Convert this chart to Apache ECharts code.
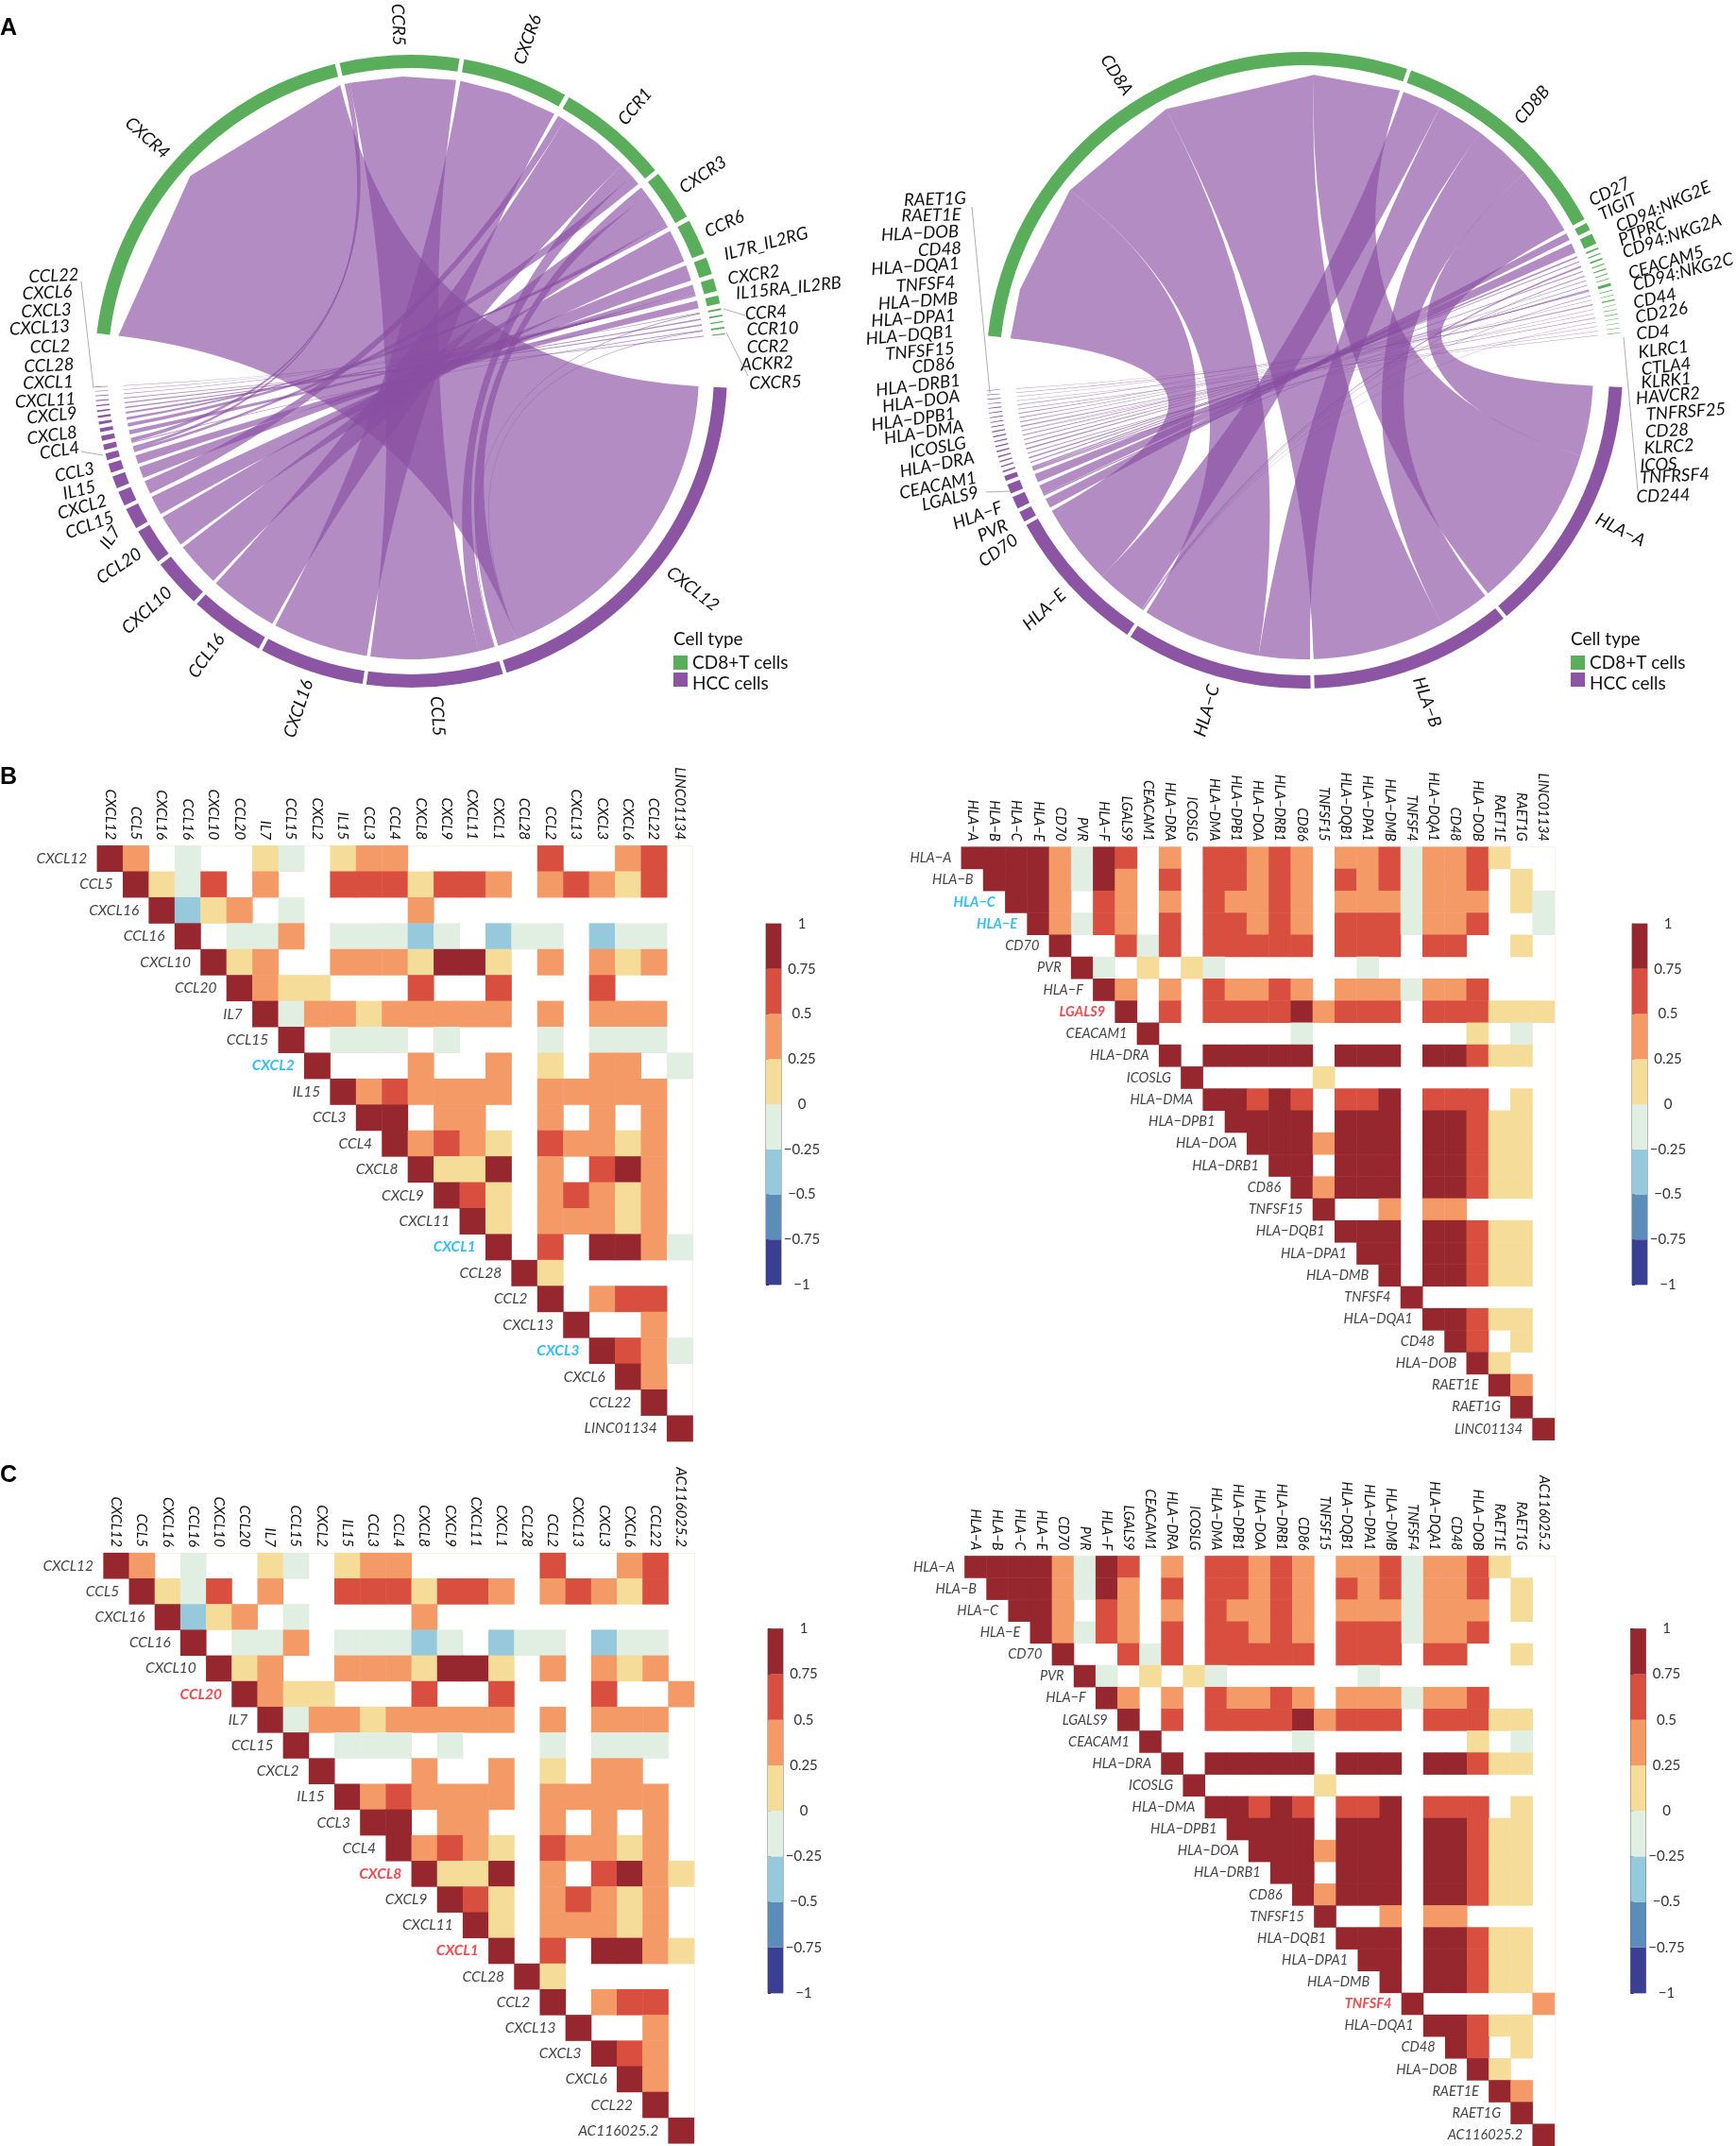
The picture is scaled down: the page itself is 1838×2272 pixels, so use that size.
<!DOCTYPE html>
<html>
<head>
<meta charset="utf-8">
<script src="https://cdn.jsdelivr.net/npm/echarts@6/dist/echarts.min.js"></script>
<style>html,body{margin:0;padding:0;background:#fff}#main{width:1838px;height:2272px}</style>
</head>
<body>
<div id="main"></div>
<script>
// correlation bands
const D = 0.9, R = 0.6, O = 0.4, Y = 0.1, G = -0.1, B = -0.4, _ = null;
const bandEdges = [-1, -0.75, -0.5, -0.25, 0, 0.25, 0.5, 0.75, 1];
const bandColors = ['#3a3f94', '#5c8db9', '#97c9dd', '#e0efe2', '#f5dc98', '#f49a66', '#d94f3f', '#96272e'];

const chemokineNames = ['CXCL12','CCL5','CXCL16','CCL16','CXCL10','CCL20','IL7','CCL15','CXCL2','IL15','CCL3','CCL4','CXCL8','CXCL9','CXCL11','CXCL1','CCL28','CCL2','CXCL13','CXCL3','CXCL6','CCL22'];
// each row starts on the diagonal
const chemokineRows = [
  [D,O,_,G,_,_,Y,G,_,Y,O,O,_,_,_,_,_,R,_,_,O,R],
  [D,Y,G,R,_,O,_,_,R,R,R,Y,R,R,O,_,O,R,O,Y,R],
  [D,B,Y,O,_,G,_,_,_,_,O,_,_,_,_,_,_,_,_,_],
  [D,_,G,G,O,_,G,G,G,B,G,_,B,G,G,_,B,G,G],
  [D,Y,O,_,_,O,O,O,Y,D,D,Y,_,O,_,O,Y,O],
  [D,O,Y,Y,_,_,_,R,_,_,R,_,_,_,R,_,_],
  [D,G,O,O,Y,O,O,O,O,O,_,O,_,O,O,O],
  [D,_,G,G,G,_,G,_,_,_,G,_,G,G,G],
  [D,_,_,_,O,_,_,O,_,Y,_,O,O,_],
  [D,O,R,O,O,O,O,_,O,O,O,O,O],
  [D,D,_,O,O,_,_,O,_,O,_,O],
  [D,O,R,O,Y,_,R,O,O,Y,O],
  [D,Y,Y,D,_,O,_,R,D,O],
  [D,R,Y,_,O,R,O,Y,O],
  [D,Y,_,O,O,O,Y,O],
  [D,_,R,_,D,D,O],
  [D,Y,_,_,_,_],
  [D,_,O,R,R],
  [D,_,_,O],
  [D,R,O],
  [D,O],
  [D]
];
const chemokineLastB = [_,_,_,_,_,_,_,_,G,_,_,_,_,_,_,G,_,_,_,G,_,_,D];
const chemokineLastC = [_,_,_,_,_,O,_,_,_,_,_,_,Y,_,_,Y,_,_,_,_,_,_,D];

const hlaNames = ['HLA−A','HLA−B','HLA−C','HLA−E','CD70','PVR','HLA−F','LGALS9','CEACAM1','HLA−DRA','ICOSLG','HLA−DMA','HLA−DPB1','HLA−DOA','HLA−DRB1','CD86','TNFSF15','HLA−DQB1','HLA−DPA1','HLA−DMB','TNFSF4','HLA−DQA1','CD48','HLA−DOB','RAET1E','RAET1G'];
const hlaRows = [
  [D,D,D,D,O,G,D,R,_,O,_,R,R,O,R,O,_,O,O,R,G,O,O,R,Y,_],
  [D,D,D,O,G,D,O,_,R,_,R,R,O,R,O,_,R,O,R,G,O,O,R,_,Y],
  [D,D,O,_,R,O,_,O,_,R,O,O,R,O,_,O,O,O,G,O,O,O,_,Y],
  [D,O,G,R,O,_,R,_,R,R,O,R,O,_,R,R,R,G,O,O,R,_,_],
  [D,_,_,R,G,R,_,R,R,R,R,R,_,R,R,R,_,R,R,_,_,Y],
  [D,G,_,Y,_,Y,G,_,_,_,_,_,_,G,_,_,_,_,_,_,_],
  [D,O,_,O,_,R,O,O,R,O,_,O,O,O,G,O,O,R,_,_],
  [D,_,R,_,R,R,R,R,D,O,R,R,R,_,R,R,R,Y,Y],
  [D,_,_,_,_,_,_,G,_,_,_,_,_,_,_,Y,_,G],
  [D,_,D,D,D,D,D,_,D,D,D,_,D,D,R,Y,Y],
  [D,_,_,_,_,_,Y,_,_,_,_,_,_,_,_,_],
  [D,D,R,D,R,_,R,R,D,_,R,R,R,_,Y],
  [D,D,D,D,_,D,D,D,_,D,D,R,Y,Y],
  [D,D,D,O,D,D,D,_,D,D,R,Y,Y],
  [D,D,_,D,D,D,_,D,D,R,Y,Y],
  [D,O,D,D,D,_,D,D,R,Y,Y],
  [D,_,_,O,_,O,O,_,_,_],
  [D,D,D,_,D,D,R,Y,Y],
  [D,D,_,D,D,R,Y,Y],
  [D,_,D,D,R,Y,Y],
  [D,_,_,_,_,_],
  [D,D,R,Y,Y],
  [D,R,_,Y],
  [D,Y,_],
  [D,O],
  [D]
];
const hlaLastB = [_,_,G,G,_,_,_,Y,_,_,_,_,_,_,_,_,_,_,_,_,_,_,_,_,_,_,D];
const hlaLastC = [_,_,_,_,_,_,_,_,_,_,_,_,_,_,_,_,_,_,_,_,O,_,_,_,_,_,D];

// chord ribbons: [partner, width] per sector, clockwise
const chemoReceptors = [
  ['CXCR4', [['CXCL12',34.5],['CXCL12',34.5]]],
  ['CCR5', [['CCL3',0.5],['CCL4',0.5],['CCL5',10.4],['CCL5',10.4]]],
  ['CXCR6', [['CXCL16',9.7],['CXCL16',9.7]]],
  ['CCR1', [['CCL15',1.5],['CCL16',7.7],['CCL16',6.4],['CCL5',2.9],['CCL3',2]]],
  ['CXCR3', [['CXCL12',2],['CXCL10',3.3],['CXCL10',3],['CXCL9',0.6],['CXCL11',0.4]]],
  ['CCR6', [['CCL20',3.4],['CCL20',3.1]]],
  ['IL7R_IL2RG', [['IL7',1.5],['IL7',1.6]]],
  ['CXCR2', [['CXCL2',1.2],['CXCL8',0.7],['CXCL1',0.2],['CXCL3',0.15],['CXCL6',0.1]]],
  ['IL15RA_IL2RB', [['IL15',1.5]]],
  ['CCR4', [['CCL22',0.15],['CCL5',0.2]]],
  ['CCR10', [['CCL28',0.3]]],
  ['CCR2', [['CCL2',0.25]]],
  ['ACKR2', [['CCL4',0.2],['CXCL12',0.1]]],
  ['CXCR5', [['CXCL13',0.2]]]
];
const chemoLigands = [
  ['CXCL12', [['CXCR4',32.6],['CXCR4',32.6],['ACKR2',0.15],['CXCR3',3.8]]],
  ['CCL5', [['CCR4',0.15],['CCR1',3.2],['CCR5',10.8],['CCR5',10.8]]],
  ['CXCL16', [['CXCR6',9.6],['CXCR6',9.6]]],
  ['CCL16', [['CCR1',7],['CCR1',6.8]]],
  ['CXCL10', [['CXCR3',4.5],['CXCR3',4.5]]],
  ['CCL20', [['CCR6',3.3],['CCR6',3.2]]],
  ['IL7', [['IL7R_IL2RG',1.95],['IL7R_IL2RG',1.95]]],
  ['CCL15', [['CCR1',2.7]]],
  ['CXCL2', [['CXCR2',2.3]]],
  ['IL15', [['IL15RA_IL2RB',1.7]]],
  ['CCL3', [['CCR1',0.6],['CCR5',0.6]]],
  ['CCL4', [['ACKR2',0.2],['CCR5',0.8]]],
  ['CXCL8', [['CXCR2',0.9]]],
  ['CXCL9', [['CXCR3',0.7]]],
  ['CXCL11', [['CXCR3',0.5]]],
  ['CXCL1', [['CXCR2',0.4]]],
  ['CCL28', [['CCR10',0.3]]],
  ['CCL2', [['CCR2',0.25]]],
  ['CXCL13', [['CXCR5',0.2]]],
  ['CXCL3', [['CXCR2',0.15]]],
  ['CXCL6', [['CXCR2',0.1]]],
  ['CCL22', [['CCR4',0.1]]]
];
const hlaReceptors = [
  ['CD8A', [['HLA−E',9.5],['HLA−E',21],['HLA−C',24],['HLA−B',29],['HLA−A',16.6]]],
  ['CD8B', [['HLA−E',4.3],['HLA−E',3.2],['HLA−C',4.7],['HLA−C',4.3],['HLA−B',5.6],['HLA−B',5.7],['HLA−A',6.5],['HLA−A',6.7]]],
  ['CD27', [['CD70',1.4]]],
  ['TIGIT', [['PVR',1.9]]],
  ['CD94:NKG2E', [['HLA−F',0.3]]],
  ['PTPRC', [['LGALS9',0.2]]],
  ['CD94:NKG2A', [['HLA−E',0.3]]],
  ['CEACAM5', [['CEACAM1',0.2]]],
  ['CD94:NKG2C', [['HLA−E',0.2]]],
  ['CD44', [['LGALS9',0.15]]],
  ['CD226', [['PVR',0.15]]],
  ['CD4', [['HLA−DRA',0.05],['HLA−DMA',0.05],['HLA−DPB1',0.05],['HLA−DOA',0.05],['HLA−DRB1',0.05],['HLA−DQB1',0.05],['HLA−DPA1',0.05],['HLA−DMB',0.05],['HLA−DQA1',0.05],['HLA−DOB',0.05]]],
  ['KLRC1', [['HLA−E',0.15]]],
  ['CTLA4', [['CD86',0.1]]],
  ['KLRK1', [['RAET1E',0.1],['RAET1G',0.1]]],
  ['HAVCR2', [['LGALS9',0.1]]],
  ['TNFRSF25', [['TNFSF15',0.1]]],
  ['CD28', [['CD86',0.1]]],
  ['KLRC2', [['HLA−E',0.1]]],
  ['ICOS', [['ICOSLG',0.1]]],
  ['TNFRSF4', [['TNFSF4',0.1]]],
  ['CD244', [['CD48',0.1]]]
];
const hlaLigands = [
  ['HLA−A', [['CD8B',6.8],['CD8B',7],['CD8A',32.5]]],
  ['HLA−B', [['CD8B',5],['CD8B',5],['CD8A',26]]],
  ['HLA−C', [['CD8B',5],['CD8B',5],['CD8A',23.4]]],
  ['HLA−E', [['KLRC2',0.1],['KLRC1',0.1],['CD94:NKG2C',0.1],['CD94:NKG2A',0.1],['CD8B',5],['CD8B',5],['CD8A',8],['CD8A',8]]],
  ['CD70', [['CD27',1.9]]],
  ['PVR', [['CD226',0.3],['TIGIT',1.9]]],
  ['HLA−F', [['CD94:NKG2E',1.7]]],
  ['LGALS9', [['HAVCR2',0.3],['CD44',0.3],['PTPRC',0.3]]],
  ['CEACAM1', [['CEACAM5',0.25]]],
  ['HLA−DRA', [['CD4',0.25]]],
  ['ICOSLG', [['ICOS',0.2]]],
  ['HLA−DMA', [['CD4',0.25]]],
  ['HLA−DPB1', [['CD4',0.25]]],
  ['HLA−DOA', [['CD4',0.2]]],
  ['HLA−DRB1', [['CD4',0.2]]],
  ['CD86', [['CD28',0.1],['CTLA4',0.1]]],
  ['TNFSF15', [['TNFRSF25',0.2]]],
  ['HLA−DQB1', [['CD4',0.15]]],
  ['HLA−DPA1', [['CD4',0.15]]],
  ['HLA−DMB', [['CD4',0.15]]],
  ['TNFSF4', [['TNFRSF4',0.15]]],
  ['HLA−DQA1', [['CD4',0.15]]],
  ['CD48', [['CD244',0.1]]],
  ['HLA−DOB', [['CD4',0.1]]],
  ['RAET1E', [['KLRK1',0.1]]],
  ['RAET1G', [['KLRK1',0.1]]]
];

// spread labels of the thin sectors: name, x, y, rotation in degrees
const chemoSpread = [
  ['CCL22',57,292,-3],['CXCL6',50,310,-3],['CXCL3',49,329,-3],['CXCL13',42,347,-3],['CCL2',53,367,-2],['CCL28',52,387,-3],
  ['CXCL1',51,405,-2],['CXCL11',48,424,-3],['CXCL9',55,440,-6],['CXCL8',55,461,-8],['CCL4',63,477,-9],['CCL3',79,500,-12],
  ['IL15',84,519,-14],['CXCL2',87,537,-16],['CCL15',95,556,-20],['IL7',117,569,-55],
  ['IL7R_IL2RG',811,258,-15],['CXCR2',798,291,-9],['IL15RA_IL2RB',835,305,-6],['CCR4',811,331,-4],['CCR10',818,348,-2],
  ['CCR2',813,367,-2],['ACKR2',812,385,-3],['CXCR5',821,405,-2]
];
const hlaSpread = [
  ['RAET1G',990,211,-2],['RAET1E',986,228,-1],['HLA−DOB',974,247,-3],['CD48',995,264,-3],['HLA−DQA1',969,282,-4],['TNFSF4',980,301,-4],
  ['HLA−DMB',972,319,-4],['HLA−DPA1',967,337,-4],['HLA−DQB1',963,355,-5],['TNFSF15',974,372,-5],['CD86',988,387,-6],['HLA−DRB1',972,408,-7],
  ['HLA−DOA',975,425,-8],['HLA−DPB1',967,444,-8],['HLA−DMA',978,458,-9],['ICOSLG',993,474,-10],['HLA−DRA',992,492,-11],['CEACAM1',993,514,-12],
  ['LGALS9',1006,528,-13],['HLA−F',1035,546,-20],['PVR',1051,562,-24],['CD70',1057,583,-35],
  ['CD27',1704,203,-26],['TIGIT',1713,219,-26],['CD94:NKG2E',1761,219,-24],['PTPRC',1739,245,-22],['CD94:NKG2A',1770,250,-19],['CEACAM5',1764,278,-17],
  ['CD94:NKG2C',1782,288,-15],['CD44',1752,316,-12],['CD226',1759,331,-11],['CD4',1750,352,-5],['KLRC1',1761,370,-7],['CTLA4',1764,388,-7],
  ['KLRK1',1764,403,-5],['HAVCR2',1766,419,-5],['TNFRSF25',1785,436,-4],['CD28',1765,456,-3],['KLRC2',1767,473,-4],['ICOS',1756,492,-3],
  ['TNFRSF4',1773,504,-3],['CD244',1761,525,-2]
];

const RING_GREEN = '#5aad5b', RING_PURPLE = '#8b55a3', RIBBON = 'rgba(137,79,162,0.65)';
const TEXT = '#111', FONT = 'Lato';

// lay sectors out clockwise from north, pair up the ribbon ends
function layoutChord(receptors, ligands, startDeg, recGap, ligGap, bigGap) {
  const sum = list => list.reduce((s, e) => s + e[1].reduce((t, p) => t + p[1], 0), 0);
  const gapTotal = 2 * bigGap + (receptors.length - 1) * recGap + (ligands.length - 1) * ligGap;
  const scale = (360 - gapTotal) / (sum(receptors) + sum(ligands));
  let a = startDeg;
  const place = (list, type, gap) => list.map(function (e, i) {
    const sec = { name: e[0], type: type, start: a, groups: [] };
    e[1].forEach(function (p) {
      const last = sec.groups[sec.groups.length - 1];
      a += p[1] * scale;
      // neighbouring slots with one partner make a single ribbon with a corner in its end
      if (last && last.partner === p[0]) last.deg.push(a);
      else sec.groups.push({ partner: p[0], deg: [a - p[1] * scale, a] });
    });
    sec.end = a;
    a += i === list.length - 1 ? bigGap : gap;
    return sec;
  });
  const rec = place(receptors, 0, recGap), lig = place(ligands, 1, ligGap);
  const links = [];
  rec.forEach(function (r) {
    r.groups.forEach(function (s) {
      const l = lig.find(x => x.name === s.partner);
      const t = l && l.groups.find(g => g.partner === r.name && !g.used);
      if (!t) return;
      t.used = true;
      links.push({ a: s.deg, b: t.deg });
    });
  });
  return { sectors: rec.concat(lig), links: links };
}

const option = { animation: false, backgroundColor: '#fff', grid: [], xAxis: [], yAxis: [], series: [], graphic: [] };
const heatSeriesIdx = [];

function addChord(c, layout, spread) {
  const rad = d => d * Math.PI / 180;
  const pt = (d, r) => [c.x + r * Math.sin(rad(d)), c.y - r * Math.cos(rad(d))];
  option.series.push({
    type: 'custom', coordinateSystem: 'none', silent: true,
    data: layout.links.map((k, i) => i),
    renderItem: function (params) {
      const k = layout.links[params.dataIndex];
      const ctrl = 'Q' + c.x + ',' + c.y + ' ';
      // receptor ends are straight chords, ligand ends follow the circle
      const recEnd = k.a.map((d, i) => (i ? 'L' : '') + pt(d, c.ribbon)).join('');
      const b0 = k.b[0], b1 = k.b[k.b.length - 1];
      let ligEnd = '' + pt(b0, c.ligRibbon);
      for (let d = b0 + 2; d < b1; d += 2) ligEnd += 'L' + pt(d, c.ligRibbon);
      ligEnd += 'L' + pt(b1, c.ligRibbon);
      const d = 'M' + recEnd + ctrl + ligEnd + ctrl + pt(k.a[0], c.ribbon) + 'Z';
      return { type: 'path', shape: { pathData: d }, style: { fill: RIBBON } };
    }
  });
  option.series.push({
    type: 'custom', coordinateSystem: 'none', silent: true,
    data: layout.sectors.map(s => [s.start, s.end]),
    renderItem: function (params) {
      const s = layout.sectors[params.dataIndex];
      return {
        type: 'sector',
        shape: { cx: c.x, cy: c.y, r: c.outer, r0: c.inner, startAngle: rad(s.start - 90), endAngle: rad(s.end - 90) },
        style: { fill: s.type === 0 ? RING_GREEN : RING_PURPLE }
      };
    }
  });
  const spreadNames = spread.map(s => s[0]);
  layout.sectors.forEach(function (s) {
    if (spreadNames.indexOf(s.name) >= 0) return;
    const m = ((s.start + s.end) / 2) % 360, p = pt(m, c.outer + 10), right = m < 180;
    option.graphic.push({
      type: 'text', x: p[0], y: p[1], rotation: -rad(right ? m - 90 : m - 270),
      style: { text: s.name, font: 'italic ' + c.font + 'px ' + FONT, fill: TEXT, align: right ? 'left' : 'right', verticalAlign: 'middle' }
    });
  });
  spread.forEach(function (s) {
    option.graphic.push({
      type: 'text', x: s[1], y: s[2], rotation: -rad(s[3]),
      style: { text: s[0], font: 'italic ' + c.font + 'px ' + FONT, fill: TEXT, align: 'center', verticalAlign: 'middle' }
    });
  });
}

function addHeatmap(names, rows, lastCol, lastName, marks, box, bar) {
  const all = names.concat([lastName]);
  const n = all.length, g = option.grid.length;
  const cell = box.w / n;
  option.grid.push({ left: box.x, top: box.y, width: box.w, height: cell * n });
  const cat = { type: 'category', data: all, gridIndex: g, splitLine: { show: false }, axisTick: { show: false } };
  option.xAxis.push(Object.assign({}, cat, {
    position: 'top',
    axisLine: { show: true, lineStyle: { color: '#f8f2e6' } },
    axisLabel: { interval: 0, rotate: 90, margin: 6, color: TEXT, fontFamily: FONT, fontStyle: 'italic', fontSize: box.font }
  }));
  option.yAxis.push(Object.assign({}, cat, {
    inverse: true, position: 'right',
    axisLine: { show: true, lineStyle: { color: '#f8f2e6' } }, axisLabel: { show: false }
  }));
  const cells = [];
  rows.forEach(function (row, r) {
    row.forEach(function (v, i) { if (v !== null) cells.push([r + i, r, v]); });
  });
  lastCol.forEach(function (v, r) { if (v !== null) cells.push([n - 1, r, v]); });
  heatSeriesIdx.push(option.series.length);
  option.series.push({ type: 'heatmap', xAxisIndex: g, yAxisIndex: g, data: cells, silent: true, progressive: 0 });
  option.series.push({
    type: 'scatter', xAxisIndex: g, yAxisIndex: g, silent: true, symbolSize: 1, itemStyle: { color: 'transparent' },
    data: all.map((name, i) => ({
      value: [i, i], name: name,
      label: { color: marks[name] || TEXT, fontWeight: marks[name] ? 'bold' : 'normal' }
    })),
    label: {
      show: true, position: 'left', distance: cell / 2 + 10, formatter: '{b}',
      fontFamily: FONT, fontStyle: 'italic', fontSize: box.font
    }
  });
  // colour bar
  const b = option.grid.length;
  option.grid.push({ left: bar.x, top: bar.y, width: 16, height: bar.h, show: true, borderColor: '#777', borderWidth: 1, backgroundColor: 'transparent' });
  option.xAxis.push({ type: 'value', gridIndex: b, min: 0, max: 1, show: false });
  option.yAxis.push({
    type: 'value', gridIndex: b, min: -1, max: 1, interval: 0.25, position: 'right', splitLine: { show: false },
    axisLine: { show: true, lineStyle: { color: '#777' } },
    axisTick: { show: true, length: 3, lineStyle: { color: '#333' } },
    axisLabel: {
      margin: 22, align: 'center', color: '#333', fontFamily: FONT, fontSize: 15,
      formatter: v => String(v).replace('-', '−')
    }
  });
  option.series.push({
    type: 'custom', xAxisIndex: b, yAxisIndex: b, silent: true, clip: false,
    data: bandColors.map((col, i) => [bandEdges[i], bandEdges[i + 1]]),
    renderItem: function (params, api) {
      const p0 = api.coord([0, api.value(1)]), p1 = api.coord([1, api.value(0)]);
      return { type: 'rect', shape: { x: p0[0], y: p0[1], width: p1[0] - p0[0], height: p1[1] - p0[1] }, style: { fill: bandColors[params.dataIndex] } };
    }
  });
}

function addLegend(x, y) {
  const g = option.graphic, font = '19px ' + FONT;
  g.push({ type: 'text', x: x, y: y, style: { text: 'Cell type', font: font, fill: TEXT, verticalAlign: 'middle' } });
  g.push({ type: 'rect', shape: { x: x, y: y + 17, width: 15, height: 15 }, style: { fill: RING_GREEN } });
  g.push({ type: 'rect', shape: { x: x, y: y + 35, width: 15, height: 15 }, style: { fill: RING_PURPLE } });
  g.push({ type: 'text', x: x + 20, y: y + 25, style: { text: 'CD8+T cells', font: font, fill: TEXT, verticalAlign: 'middle' } });
  g.push({ type: 'text', x: x + 20, y: y + 47, style: { text: 'HCC cells', font: font, fill: TEXT, verticalAlign: 'middle' } });
}

function leader(points) {
  option.graphic.push({ type: 'polyline', shape: { points: points }, style: { stroke: '#999', lineWidth: 0.8, fill: null } });
}

addChord({ x: 435, y: 393, outer: 335, inner: 321, ribbon: 312, ligRibbon: 305, font: 18.5 },
  layoutChord(chemoReceptors, chemoLigands, 276.9, 0.85, 0.7, 9.7), chemoSpread);
addChord({ x: 1381, y: 392, outer: 337, inner: 323, ribbon: 313, ligRibbon: 306, font: 18.5 },
  layoutChord(hlaReceptors, hlaLigands, 276.2, 0.75, 0.7, 9.8), hlaSpread);

leader([[86, 298], [99, 411]]);
leader([[86, 478], [109, 482]]);
leader([[766, 327], [789, 334]]);
leader([[769, 352], [792, 398]]);
leader([[1029, 219], [1048, 416]]);
leader([[1044, 521], [1071, 520]]);
leader([[1719, 357], [1734, 520]]);

addLegend(713, 677);
addLegend(1663, 677);

addHeatmap(chemokineNames, chemokineRows, chemokineLastB, 'LINC01134',
  { CXCL2: '#00aeef', CXCL1: '#00aeef', CXCL3: '#00aeef' },
  { x: 102.8, y: 895.3, w: 630.8, font: 15.5 }, { x: 811, y: 978, h: 382 });
addHeatmap(hlaNames, hlaRows, hlaLastB, 'LINC01134',
  { 'HLA−C': '#00aeef', 'HLA−E': '#00aeef', LGALS9: '#ee1c25' },
  { x: 1017.8, y: 896.7, w: 628, font: 14.5 }, { x: 1728, y: 978, h: 382 });
addHeatmap(chemokineNames, chemokineRows, chemokineLastC, 'AC116025.2',
  { CCL20: '#ee1c25', CXCL8: '#ee1c25', CXCL1: '#ee1c25' },
  { x: 109.6, y: 1644.1, w: 625.2, font: 15.5 }, { x: 813, y: 1724.4, h: 385.6 });
addHeatmap(hlaNames, hlaRows, hlaLastC, 'AC116025.2',
  { TNFSF4: '#ee1c25' },
  { x: 1021.4, y: 1647.4, w: 624.4, font: 14.5 }, { x: 1726.5, y: 1724.4, h: 385.6 });

option.visualMap = [{
  type: 'piecewise', show: false, dimension: 2, seriesIndex: heatSeriesIdx,
  pieces: bandColors.map((col, i) => ({ gte: bandEdges[i], lt: bandEdges[i + 1], color: col }))
}];

[['A', 30], ['B', 823], ['C', 1562]].forEach(function (p) {
  option.graphic.push({
    type: 'text', x: 0, y: p[1],
    style: { text: p[0], font: 'bold 25px "Liberation Sans"', fill: '#000', verticalAlign: 'middle' }
  });
});

const chart = echarts.init(document.getElementById('main'));
chart.setOption(option);
</script>
</body>
</html>
